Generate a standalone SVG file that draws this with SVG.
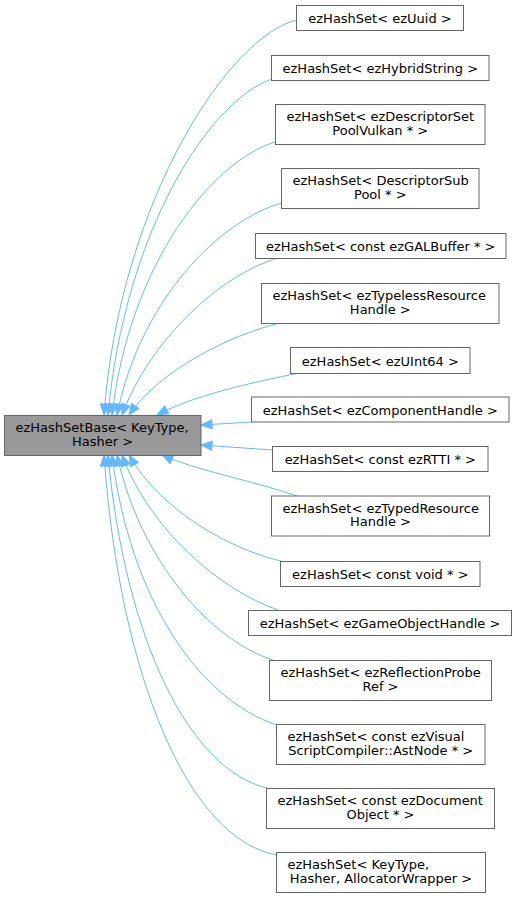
<svg xmlns="http://www.w3.org/2000/svg" width="517" height="898" viewBox="0 0 517 898">
<style>
.n rect{fill:#ffffff;stroke:#666666;stroke-width:1}
.b rect{fill:#999999;stroke:#666666;stroke-width:1}
text{font-family:"DejaVu Sans","Liberation Sans",sans-serif;font-size:13px;fill:#000000}
.m{text-anchor:middle}
.s{text-anchor:start}
#edges path{fill:none;stroke:#63b8ff;stroke-width:1;marker-end:url(#arr)}
</style>
<defs>
<marker id="arr" markerUnits="userSpaceOnUse" markerWidth="13" markerHeight="11" refX="12" refY="5.5" orient="auto">
<path d="M1,1 L12,5.5 L1,10 z" fill="#63b8ff" stroke="#63b8ff" stroke-width="1"/>
</marker>
</defs>
<rect width="517" height="898" fill="#ffffff"/>
<g id="edges">
<path d="M297,20 C230,35 120,200 104,415"/>
<path d="M272,79 C210,100 125,230 108,415"/>
<path d="M275,142 C215,160 130,260 112,415"/>
<path d="M282,203 C220,220 140,300 117,415"/>
<path d="M278,258 C220,275 150,340 122,415"/>
<path d="M280,323 C230,335 160,370 129,415"/>
<path d="M299,373 C250,383 195,395 157,415"/>
<path d="M252,422 L201,425"/>
<path d="M273,450 L201,445"/>
<path d="M297,496 C250,480 195,470 162,455"/>
<path d="M285,562 C230,550 160,510 129,455"/>
<path d="M278,610 C220,590 150,530 122,455"/>
<path d="M273,660 C210,640 140,560 117,455"/>
<path d="M277,725 C200,700 130,600 112,455"/>
<path d="M267,788 C190,770 125,640 108,455"/>
<path d="M277,855 C190,840 120,680 104,455"/>
</g>
<g id="base" class="b">
<rect x="4.5" y="415.5" width="196.5" height="40"/>
<text class="s" x="15.5" y="432">ezHashSetBase&lt; KeyType,</text>
<text class="m" x="102.5" y="445.5">Hasher &gt;</text>
</g>
<g id="n1" class="n">
<rect x="296.5" y="5.5" width="167" height="25"/>
<text class="m" x="380" y="23">ezHashSet&lt; ezUuid &gt;</text>
</g>
<g id="n2" class="n">
<rect x="271.5" y="55.5" width="217.5" height="25"/>
<text class="m" x="380.3" y="73">ezHashSet&lt; ezHybridString &gt;</text>
</g>
<g id="n3" class="n">
<rect x="275.5" y="104.5" width="209.5" height="40"/>
<text class="s" x="286.5" y="121.3">ezHashSet&lt; ezDescriptorSet</text>
<text class="m" x="380.3" y="134.7">PoolVulkan * &gt;</text>
</g>
<g id="n4" class="n">
<rect x="281.5" y="168.5" width="197.5" height="40"/>
<text class="s" x="292.5" y="185.3">ezHashSet&lt; DescriptorSub</text>
<text class="m" x="380.3" y="198.7">Pool * &gt;</text>
</g>
<g id="n5" class="n">
<rect x="255.5" y="233.5" width="250.5" height="25"/>
<text class="m" x="380.7" y="251">ezHashSet&lt; const ezGALBuffer * &gt;</text>
</g>
<g id="n6" class="n">
<rect x="261.5" y="283.5" width="237.5" height="40"/>
<text class="s" x="272.5" y="300.3">ezHashSet&lt; ezTypelessResource</text>
<text class="m" x="380.3" y="313.7">Handle &gt;</text>
</g>
<g id="n7" class="n">
<rect x="290.5" y="347.5" width="179.5" height="26"/>
<text class="m" x="380.3" y="365.5">ezHashSet&lt; ezUInt64 &gt;</text>
</g>
<g id="n8" class="n">
<rect x="251.5" y="397" width="257.5" height="25"/>
<text class="m" x="380.3" y="414.5">ezHashSet&lt; ezComponentHandle &gt;</text>
</g>
<g id="n9" class="n">
<rect x="272.5" y="446.5" width="215.5" height="25"/>
<text class="m" x="380.3" y="464">ezHashSet&lt; const ezRTTI * &gt;</text>
</g>
<g id="n10" class="n">
<rect x="271.5" y="496" width="218" height="40"/>
<text class="s" x="282.5" y="512.8">ezHashSet&lt; ezTypedResource</text>
<text class="m" x="380.5" y="526.2">Handle &gt;</text>
</g>
<g id="n11" class="n">
<rect x="280.5" y="561.5" width="199.5" height="25"/>
<text class="m" x="380.3" y="579">ezHashSet&lt; const void * &gt;</text>
</g>
<g id="n12" class="n">
<rect x="248.5" y="610.5" width="263" height="25"/>
<text class="m" x="380" y="628">ezHashSet&lt; ezGameObjectHandle &gt;</text>
</g>
<g id="n13" class="n">
<rect x="269.5" y="660.5" width="222" height="40"/>
<text class="s" x="280.5" y="677.3">ezHashSet&lt; ezReflectionProbe</text>
<text class="m" x="380.5" y="690.7">Ref &gt;</text>
</g>
<g id="n14" class="n">
<rect x="276.5" y="724.5" width="208.5" height="40"/>
<text class="s" x="287.5" y="741.3">ezHashSet&lt; const ezVisual</text>
<text class="m" x="380.7" y="754.7">ScriptCompiler::AstNode * &gt;</text>
</g>
<g id="n15" class="n">
<rect x="266.5" y="788.5" width="228" height="40"/>
<text class="s" x="277.5" y="805.3">ezHashSet&lt; const ezDocument</text>
<text class="m" x="380.5" y="818.7">Object * &gt;</text>
</g>
<g id="n16" class="n">
<rect x="276.5" y="852.5" width="209" height="40"/>
<text class="s" x="287.5" y="869.3">ezHashSet&lt; KeyType,</text>
<text class="m" x="381" y="882.7">Hasher, AllocatorWrapper &gt;</text>
</g>
</svg>
